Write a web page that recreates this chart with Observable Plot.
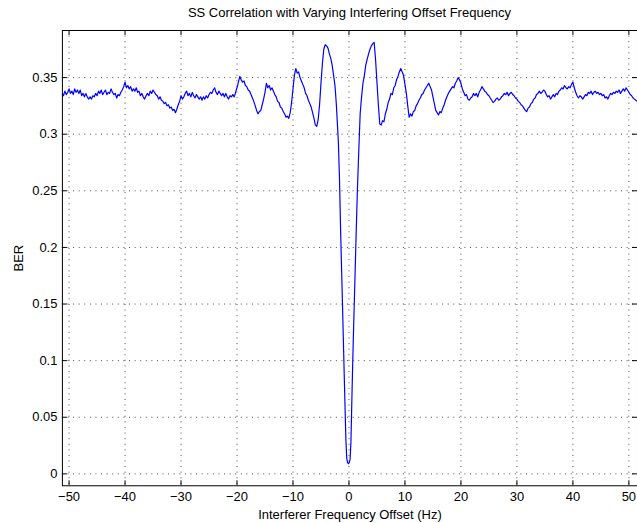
<!DOCTYPE html>
<html><head><meta charset="utf-8">
<script src="https://cdn.jsdelivr.net/npm/d3@7"></script>
<script src="https://cdn.jsdelivr.net/npm/@observablehq/plot@0.6"></script>
<style>
html,body{margin:0;background:#fff;overflow:hidden;font-family:"Liberation Sans",Arial,sans-serif;}
#title{height:22px;line-height:26px;font-size:13px;text-align:center;margin-left:62px;width:575px;color:#000;white-space:nowrap;}
</style></head><body>
<div id="title"></div>
<div id="chart"></div>
<script>
const titleText = "SS Correlation with Varying Interfering Offset Frequency";
const xLabel = "Interferer Frequency Offset (Hz)";
const yLabel = "BER";
const xTicks = [-50, -40, -30, -20, -10, 0, 10, 20, 30, 40, 50];
const yTicks = [0, 0.05, 0.1, 0.15, 0.2, 0.25, 0.3, 0.35];

const freq = [
-51.5,-51.25,-51,-50.75,-50.5,-50.25,-50,-49.75,-49.5,-49.25,
-49,-48.75,-48.5,-48.25,-48,-47.75,-47.5,-47.25,-47,-46.75,
-46.5,-46.25,-46,-45.75,-45.5,-45.25,-45,-44.75,-44.5,-44.25,
-44,-43.75,-43.5,-43.25,-43,-42.75,-42.5,-42.25,-42,-41.75,
-41.5,-41.25,-41,-40.75,-40.5,-40.25,-40,-39.75,-39.5,-39.25,
-39,-38.75,-38.5,-38.25,-38,-37.75,-37.5,-37.25,-37,-36.75,
-36.5,-36.25,-36,-35.75,-35.5,-35.25,-35,-34.75,-34.5,-34.25,
-34,-33.75,-33.5,-33.25,-33,-32.75,-32.5,-32.25,-32,-31.75,
-31.5,-31.25,-31,-30.75,-30.5,-30.25,-30,-29.75,-29.5,-29.25,
-29,-28.75,-28.5,-28.25,-28,-27.75,-27.5,-27.25,-27,-26.75,
-26.5,-26.25,-26,-25.75,-25.5,-25.25,-25,-24.75,-24.5,-24.25,
-24,-23.75,-23.5,-23.25,-23,-22.75,-22.5,-22.25,-22,-21.75,
-21.5,-21.25,-21,-20.75,-20.5,-20.25,-20,-19.75,-19.5,-19.25,
-19,-18.75,-18.5,-18.25,-18,-17.75,-17.5,-17.25,-17,-16.75,
-16.5,-16.25,-16,-15.75,-15.5,-15.25,-15,-14.75,-14.5,-14.25,
-14,-13.75,-13.5,-13.25,-13,-12.75,-12.5,-12.25,-12,-11.75,
-11.5,-11.25,-11,-10.75,-10.5,-10.25,-10,-9.75,-9.5,-9.25,
-9,-8.75,-8.5,-8.25,-8,-7.75,-7.5,-7.25,-7,-6.75,
-6.5,-6.25,-6,-5.75,-5.5,-5.25,-5,-4.75,-4.5,-4.25,
-4,-3.75,-3.5,-3.25,-3,-2.75,-2.5,-2.25,-2.1,-1.9,
-1.7,-1.45,-1.2,-1,-0.85,-0.7,-0.55,-0.4,-0.25,-0.1,
0.05,0.2,0.35,0.5,0.65,0.8,1,1.25,1.5,1.75,
2,2.25,2.5,2.75,3,3.25,3.5,3.75,4,4.25,
4.5,4.75,5,5.25,5.5,5.75,6,6.25,6.5,6.75,
7,7.25,7.5,7.75,8,8.25,8.5,8.75,9,9.25,
9.5,9.75,10,10.25,10.5,10.75,11,11.25,11.5,11.75,
12,12.25,12.5,12.75,13,13.25,13.5,13.75,14,14.25,
14.5,14.75,15,15.25,15.5,15.75,16,16.25,16.5,16.75,
17,17.25,17.5,17.75,18,18.25,18.5,18.75,19,19.25,
19.5,19.75,20,20.25,20.5,20.75,21,21.25,21.5,21.75,
22,22.25,22.5,22.75,23,23.25,23.5,23.75,24,24.25,
24.5,24.75,25,25.25,25.5,25.75,26,26.25,26.5,26.75,
27,27.25,27.5,27.75,28,28.25,28.5,28.75,29,29.25,
29.5,29.75,30,30.25,30.5,30.75,31,31.25,31.5,31.75,
32,32.25,32.5,32.75,33,33.25,33.5,33.75,34,34.25,
34.5,34.75,35,35.25,35.5,35.75,36,36.25,36.5,36.75,
37,37.25,37.5,37.75,38,38.25,38.5,38.75,39,39.25,
39.5,39.75,40,40.25,40.5,40.75,41,41.25,41.5,41.75,
42,42.25,42.5,42.75,43,43.25,43.5,43.75,44,44.25,
44.5,44.75,45,45.25,45.5,45.75,46,46.25,46.5,46.75,
47,47.25,47.5,47.75,48,48.25,48.5,48.75,49,49.25,
49.5,49.75,50,50.25,50.5,50.75,51,51.25,51.5,51.75
];
const ber = [
0.333,0.336,0.334,0.338,0.335,0.337,0.340,0.336,0.338,0.335,
0.340,0.337,0.339,0.336,0.339,0.334,0.336,0.333,0.336,0.333,
0.331,0.333,0.331,0.334,0.333,0.336,0.334,0.338,0.336,0.339,
0.335,0.337,0.339,0.335,0.337,0.336,0.340,0.337,0.335,0.336,
0.332,0.335,0.334,0.337,0.339,0.342,0.346,0.341,0.343,0.340,
0.342,0.338,0.340,0.338,0.341,0.337,0.338,0.334,0.336,0.333,
0.331,0.334,0.336,0.334,0.338,0.336,0.339,0.337,0.335,0.334,
0.331,0.333,0.330,0.329,0.327,0.328,0.325,0.326,0.323,0.324,
0.321,0.322,0.319,0.322,0.326,0.329,0.334,0.331,0.333,0.336,
0.338,0.334,0.336,0.333,0.337,0.334,0.332,0.335,0.333,0.331,
0.333,0.330,0.333,0.331,0.334,0.332,0.335,0.337,0.336,0.339,
0.341,0.337,0.335,0.338,0.336,0.334,0.336,0.333,0.336,0.333,
0.331,0.334,0.333,0.335,0.333,0.337,0.341,0.346,0.351,0.348,
0.346,0.347,0.343,0.342,0.339,0.338,0.335,0.332,0.329,0.325,
0.321,0.318,0.320,0.321,0.326,0.331,0.337,0.345,0.341,0.343,
0.339,0.341,0.338,0.335,0.333,0.329,0.328,0.324,0.323,0.320,
0.318,0.315,0.316,0.314,0.319,0.328,0.340,0.352,0.358,0.354,
0.355,0.350,0.347,0.344,0.341,0.336,0.334,0.330,0.327,0.324,
0.319,0.314,0.308,0.307,0.313,0.326,0.345,0.362,0.375,0.379,
0.378,0.376,0.371,0.367,0.361,0.352,0.343,0.326,0.312,0.294,
0.262,0.206,0.158,0.118,0.088,0.059,0.030,0.014,0.010,0.009,
0.010,0.013,0.028,0.062,0.094,0.124,0.160,0.206,0.250,0.285,
0.318,0.333,0.345,0.352,0.361,0.366,0.371,0.375,0.378,0.380,
0.381,0.366,0.346,0.326,0.309,0.308,0.312,0.311,0.318,0.322,
0.328,0.331,0.336,0.335,0.341,0.343,0.348,0.351,0.355,0.358,
0.355,0.352,0.344,0.336,0.325,0.315,0.318,0.316,0.320,0.321,
0.325,0.327,0.330,0.332,0.335,0.336,0.339,0.341,0.343,0.345,
0.342,0.339,0.333,0.327,0.321,0.319,0.317,0.320,0.319,0.323,
0.326,0.330,0.333,0.336,0.338,0.340,0.342,0.341,0.345,0.347,
0.350,0.348,0.345,0.340,0.337,0.334,0.335,0.331,0.330,0.332,
0.333,0.336,0.334,0.336,0.333,0.337,0.339,0.342,0.340,0.338,
0.337,0.335,0.334,0.332,0.330,0.328,0.329,0.331,0.332,0.330,
0.331,0.333,0.334,0.336,0.335,0.337,0.334,0.336,0.337,0.335,
0.334,0.332,0.331,0.329,0.328,0.326,0.325,0.323,0.321,0.320,
0.323,0.324,0.327,0.328,0.331,0.332,0.335,0.336,0.338,0.336,
0.337,0.339,0.338,0.335,0.333,0.334,0.331,0.333,0.335,0.333,
0.336,0.335,0.338,0.339,0.341,0.340,0.343,0.341,0.340,0.342,
0.341,0.344,0.346,0.341,0.337,0.334,0.332,0.334,0.333,0.331,
0.333,0.335,0.334,0.337,0.336,0.338,0.335,0.337,0.338,0.336,
0.337,0.335,0.336,0.334,0.335,0.332,0.333,0.331,0.334,0.336,
0.335,0.337,0.336,0.338,0.337,0.339,0.336,0.338,0.340,0.338,
0.341,0.339,0.337,0.335,0.334,0.332,0.331,0.330,0.329,0.330
];

document.getElementById("title").textContent = titleText;
const data = freq.map((f, i) => ({f, b: ber[i]}));

const W = 638, H = 501, mT = 8, mB = 37, mL = 62, mR = 0;
const fh = H - mT - mB, fw = W - mL - mR;
const ink = "#000";

const chart = Plot.plot({
  width: W, height: H,
  marginTop: mT, marginBottom: mB, marginLeft: mL, marginRight: mR,
  style: {fontFamily: '"Liberation Sans", Arial, sans-serif', fontSize: "13px", color: ink, background: "#fff"},
  x: {domain: [-51.19, 51.54]},
  y: {domain: [-0.0105, 0.3916]},
  marks: [
    Plot.gridX(xTicks, {stroke: ink, strokeOpacity: 0.7, strokeDasharray: "1,4.6"}),
    Plot.gridY(yTicks, {stroke: ink, strokeOpacity: 0.7, strokeDasharray: "1,4.6"}),
    Plot.tickX(xTicks, {x: d => d, insetTop: fh - 5, stroke: ink}),
    Plot.tickX(xTicks, {x: d => d, insetBottom: fh - 5, stroke: ink}),
    Plot.tickY(yTicks, {y: d => d, insetRight: fw - 5, stroke: ink}),
    Plot.tickY(yTicks, {y: d => d, insetLeft: fw - 5, stroke: ink}),
    Plot.axisX(xTicks, {tickSize: 0, tickPadding: 6, label: xLabel, labelAnchor: "center", labelArrow: "none", labelOffset: 33}),
    Plot.axisY(yTicks, {tickSize: 0, tickPadding: 5, tickFormat: d => String(d), label: yLabel, labelAnchor: "center", labelArrow: "none", labelOffset: 49}),
    Plot.line(data, {x: "f", y: "b", stroke: "#0000ff", strokeWidth: 1.2, clip: true}),
    Plot.frame({stroke: ink, strokeWidth: 1})
  ]
});
document.getElementById("chart").append(chart);
</script>
</body></html>
